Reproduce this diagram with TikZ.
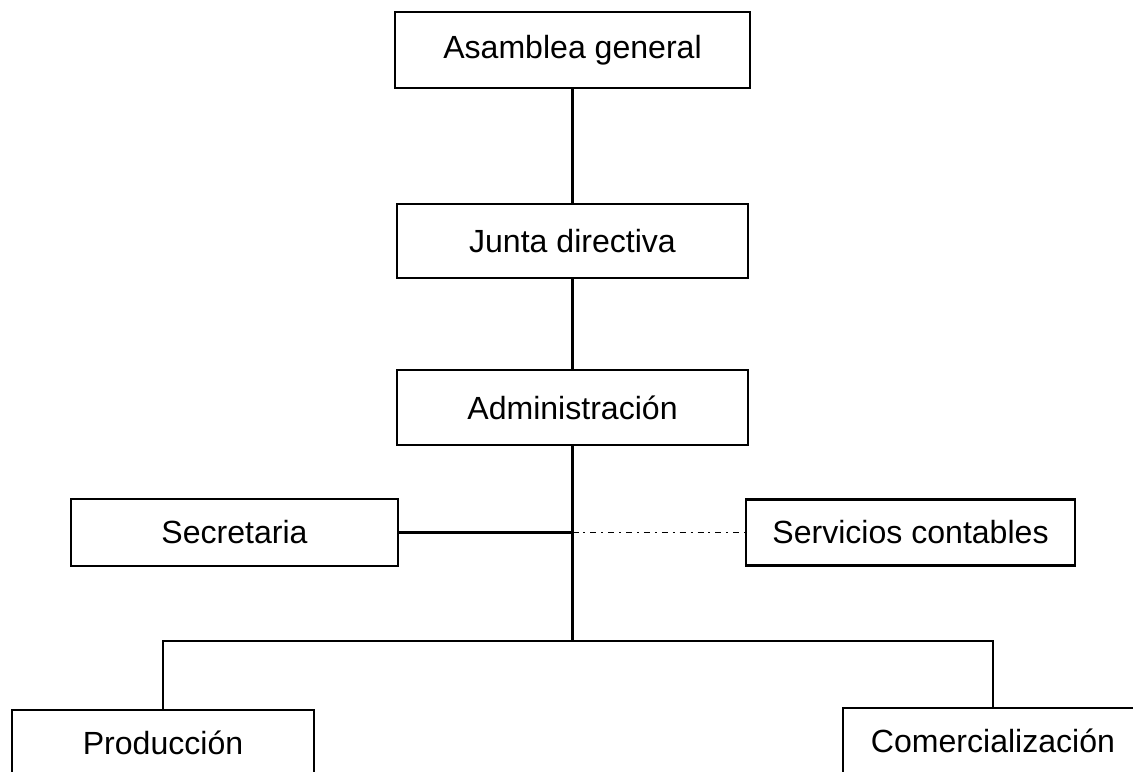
\documentclass[tikz,border=0pt]{standalone}
\usepackage{fontspec}
\setmainfont{Liberation Sans}
\begin{document}
\begin{tikzpicture}[x=0.025cm, y=-0.025cm, line width=1.6pt,
  box/.style={draw, rectangle, inner sep=0pt, font=\fontsize{22.8}{27}\selectfont}]
\clip (0,0) rectangle (1133,771);
\node[box, minimum width=355*0.025cm, minimum height=76*0.025cm] (asamblea) at (572.5,50){Asamblea general};
\node[box, minimum width=351*0.025cm, minimum height=74*0.025cm] (junta) at (572.5,241){Junta directiva};
\node[box, minimum width=351*0.025cm, minimum height=75*0.025cm] (admin) at (572.5,407.5){Administración};
\node[box, minimum width=327*0.025cm, minimum height=67*0.025cm] (secre) at (234.5,532.5){Secretaria};
\node[box, minimum width=329*0.025cm, minimum height=66*0.025cm] (servi) at (910.5,532.5){Servicios contables};
\node[box, minimum width=302*0.025cm, minimum height=66*0.025cm] (produ) at (163,743){Producción};
\node[box, minimum width=300*0.025cm, minimum height=66*0.025cm] (comer) at (993,741){Comercialización};
\coordinate (junc) at (572.5,532.5);
\coordinate (bus) at (572.5,641);
\draw[](asamblea.south) -- (junta.north);
\draw[](junta.south) -- (admin.north);
\draw[](admin.south) -- (bus);
\draw[](secre.east) -- (junc);
\draw[line width=1.1pt, dash pattern=on 4.3pt off 3.5pt on 1.4pt off 3.5pt](junc) -- (servi.west);
\draw[](produ.north) |- (bus) -| (comer.north);

\end{tikzpicture}
\end{document}
